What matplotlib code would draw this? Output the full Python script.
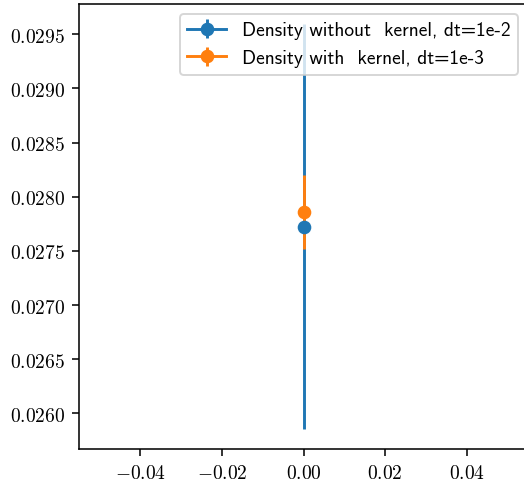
import numpy as np
import matplotlib
matplotlib.use('Agg')
import matplotlib.pyplot as plt
from matplotlib.ticker import FormatStrFormatter

plt.rcParams['mathtext.fontset'] = 'cm'

# density estimates at x = 0
x_nokernel = [0.0]
rho_nokernel = [0.027725]
err_nokernel = [0.001868]

x_kernel = [0.0]
rho_kernel = [0.027856]
err_kernel = [0.000341]

labels = ['Density without  kernel, dt=1e-2', 'Density with  kernel, dt=1e-3']

fig = plt.figure(figsize=(524/140, 481/140), dpi=140)
ax = fig.add_axes([79/524, 31/481, 449/524, 445/481])

ax.errorbar(x_nokernel, rho_nokernel, yerr=err_nokernel, marker='o', label=labels[0])
ax.errorbar(x_kernel, rho_kernel, yerr=err_kernel, marker='o', label=labels[1])

ax.set_xticks([-0.04, -0.02, 0.0, 0.02, 0.04])
ax.xaxis.set_major_formatter(FormatStrFormatter(r'$%.2f$'))
ax.yaxis.set_major_formatter(FormatStrFormatter(r'$%.4f$'))

ax.legend(loc='upper right', prop={'family': ['cmss10', 'DejaVu Sans']})

fig.savefig('out.png', dpi=140)
